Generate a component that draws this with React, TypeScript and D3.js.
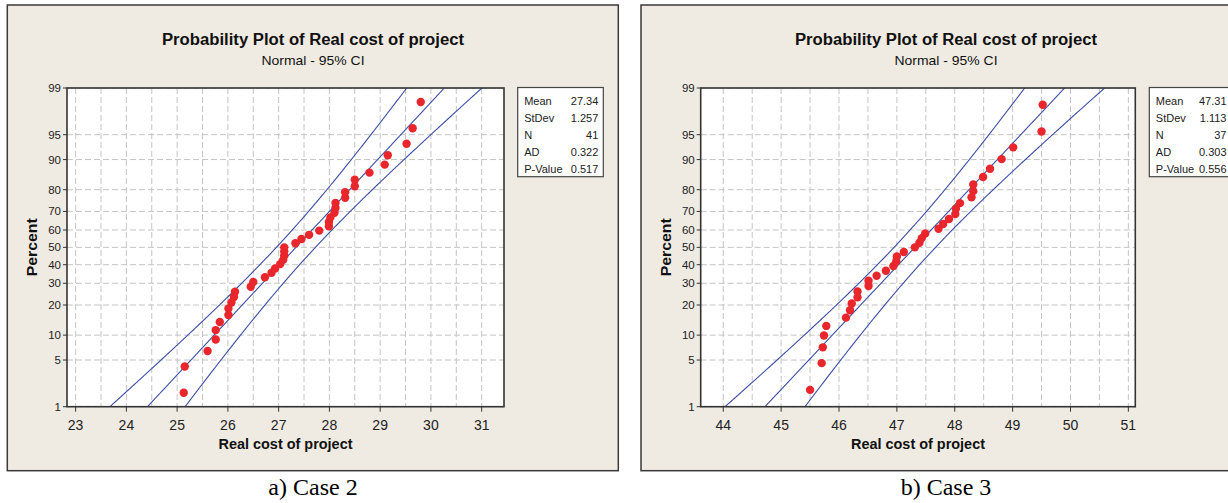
import React from 'react';
import * as d3 from 'd3';

// Real cost of project (sorted)
const case2Costs = [
  25.13, 25.15, 25.6, 25.76, 25.76, 25.84, 26.01, 26.01, 26.07, 26.12, 26.14,
  26.45, 26.5, 26.73, 26.86, 26.93, 27.03, 27.09, 27.11, 27.11, 27.11, 27.33,
  27.45, 27.6, 27.8, 27.99, 27.99, 28.02, 28.1, 28.12, 28.12, 28.31, 28.31,
  28.5, 28.5, 28.79, 29.09, 29.15, 29.52, 29.64, 29.8,
];
const case3Costs = [
  45.5, 45.7, 45.72, 45.74, 45.78, 46.12, 46.19, 46.22, 46.32, 46.32, 46.51,
  46.51, 46.65, 46.81, 46.94, 46.99, 47.0, 47.12, 47.31, 47.39, 47.43, 47.49,
  47.72, 47.8, 47.9, 48.01, 48.02, 48.09, 48.29, 48.32, 48.32, 48.49, 48.61,
  48.81, 49.01, 49.5, 49.52,
];

const statLabels = ['Mean', 'StDev', 'N', 'AD', 'P-Value'];
const case2Stats = ['27.34', '1.257', '41', '0.322', '0.517'];
const case3Stats = ['47.31', '1.113', '37', '0.303', '0.556'];
const case2Fit = { mean: 27.34, sd: 1.257 };
const case3Fit = { mean: 47.31, sd: 1.113 };

const percentTicks = [1, 5, 10, 20, 30, 40, 50, 60, 70, 80, 90, 95, 99];
const case2Ticks = [23, 24, 25, 26, 27, 28, 29, 30, 31];
const case3Ticks = [44, 45, 46, 47, 48, 49, 50, 51];

const SANS = "'Liberation Sans', Arial, sans-serif";
const BLUE = '#3b4ea6';
const RED = '#e8262b';

// inverse normal cdf (Acklam)
function qnorm(p: number): number {
  const a = [-39.6968302866538, 220.946098424521, -275.928510446969, 138.357751867269, -30.6647980661472, 2.50662827745924];
  const b = [-54.4760987982241, 161.585836858041, -155.698979859887, 66.8013118877197, -13.2806815528857];
  const c = [-0.00778489400243029, -0.322396458041136, -2.40075827716184, -2.54973253934373, 4.37466414146497, 2.93816398269878];
  const d = [0.00778469570904146, 0.32246712907004, 2.445134137143, 3.75440866190742];
  const pl = 0.02425;
  if (p < pl) {
    const q = Math.sqrt(-2 * Math.log(p));
    return (((((c[0] * q + c[1]) * q + c[2]) * q + c[3]) * q + c[4]) * q + c[5]) /
      ((((d[0] * q + d[1]) * q + d[2]) * q + d[3]) * q + 1);
  }
  if (p > 1 - pl) {
    const q = Math.sqrt(-2 * Math.log(1 - p));
    return -(((((c[0] * q + c[1]) * q + c[2]) * q + c[3]) * q + c[4]) * q + c[5]) /
      ((((d[0] * q + d[1]) * q + d[2]) * q + d[3]) * q + 1);
  }
  const q = p - 0.5;
  const r = q * q;
  return (((((a[0] * r + a[1]) * r + a[2]) * r + a[3]) * r + a[4]) * r + a[5]) * q /
    (((((b[0] * r + b[1]) * r + b[2]) * r + b[3]) * r + b[4]) * r + 1);
}

type PanelProps = {
  id: string;
  values: number[];
  fit: { mean: number; sd: number };
  stats: string[];
  xDomain: [number, number];
  xTicks: number[];
  frame: { x: number; y: number; w: number; h: number };
  plot: { l: number; t: number; r: number; b: number };
  titleX: number;
  percentX: number;
  legendX: number;
  valueX: number;
  caption: string;
  captionX: number;
};

const Panel = ({ id, values, fit, stats, xDomain, xTicks, frame, plot, titleX, percentX, legendX, valueX, caption, captionX }: PanelProps) => {
  const zLo = qnorm(0.01);
  const zHi = qnorm(0.99);
  const x = d3.scaleLinear().domain(xDomain).range([plot.l, plot.r]);
  const yz = d3.scaleLinear().domain([zLo, zHi]).range([plot.b, plot.t]);
  const y = (pct: number) => yz(qnorm(pct / 100));

  const n = values.length;
  const sorted = [...values].sort((a, b) => a - b);
  // median ranks for the plotting positions
  const pts = sorted.map((v, i) => ({ v, p: (i + 1 - 0.3) / (n + 0.4) }));

  const grid = d3.range(Math.ceil(xDomain[0] * 2) / 2, xDomain[1] + 1e-6, 0.5);
  const zs = d3.range(zLo, zHi, 0.02).concat([zHi]);
  const band = (k: number) =>
    d3.line<number>()
      .x(z => x(fit.mean + z * fit.sd + k * 1.96 * fit.sd * Math.sqrt(1 / n + (z * z) / (2 * n))))
      .y(z => yz(z))(zs) || '';

  const xMid = (plot.l + plot.r) / 2;
  const yMid = (plot.t + plot.b) / 2;

  return (
    <g>
      <rect x={frame.x} y={frame.y} width={frame.w} height={frame.h} fill="#efebe2" stroke="#3a3a3a" strokeWidth={1.5} />
      <rect x={plot.l} y={plot.t} width={plot.r - plot.l} height={plot.b - plot.t} fill="#ffffff" />

      {/* grid */}
      {grid.map(g => (
        <line key={'gx' + g} x1={x(g)} x2={x(g)} y1={plot.t} y2={plot.b} stroke="#c4c4c4" strokeDasharray="6,3" />
      ))}
      {percentTicks.map(p => (
        <line key={'gy' + p} x1={plot.l} x2={plot.r} y1={y(p)} y2={y(p)} stroke="#c4c4c4" strokeDasharray="6,3" />
      ))}

      <clipPath id={id}>
        <rect x={plot.l} y={plot.t} width={plot.r - plot.l} height={plot.b - plot.t} />
      </clipPath>
      <g clipPath={`url(#${id})`}>
        {[-1, 0, 1].map(k => (
          <path key={k} d={band(k)} fill="none" stroke={BLUE} strokeWidth={1.1} />
        ))}
      </g>

      {pts.map((d, i) => (
        <circle key={i} cx={x(d.v)} cy={yz(qnorm(d.p))} r={4.2} fill={RED} />
      ))}

      <rect x={plot.l} y={plot.t} width={plot.r - plot.l} height={plot.b - plot.t} fill="none" stroke="#333" strokeWidth={1.6} />

      {/* y axis */}
      {percentTicks.map(p => (
        <g key={'ty' + p}>
          <line x1={plot.l - 4} x2={plot.l} y1={y(p)} y2={y(p)} stroke="#333" />
          <text x={plot.l - 6} y={y(p) + 4} textAnchor="end" fontFamily={SANS} fontSize={11.5} fill="#222">{p}</text>
        </g>
      ))}
      {/* x axis */}
      {xTicks.map(t => (
        <g key={'tx' + t}>
          <line x1={x(t)} x2={x(t)} y1={plot.b} y2={plot.b + 5} stroke="#333" />
          <text x={x(t)} y={plot.b + 23} textAnchor="middle" fontFamily={SANS} fontSize={14} fill="#222">{t}</text>
        </g>
      ))}

      <text x={xMid} y={449} textAnchor="middle" fontFamily={SANS} fontSize={15} fontWeight="bold" fill="#111"
        textLength={134} lengthAdjust="spacingAndGlyphs">Real cost of project</text>
      <text transform={`translate(${percentX},${yMid}) rotate(-90)`} textAnchor="middle" fontFamily={SANS} fontSize={15}
        fontWeight="bold" fill="#111" textLength={58} lengthAdjust="spacingAndGlyphs">Percent</text>

      <text x={titleX} y={45} textAnchor="middle" fontFamily={SANS} fontSize={16} fontWeight="bold" fill="#111"
        textLength={302} lengthAdjust="spacingAndGlyphs">Probability Plot of Real cost of project</text>
      <text x={titleX} y={64.5} textAnchor="middle" fontFamily={SANS} fontSize={13} fill="#111"
        textLength={103} lengthAdjust="spacingAndGlyphs">Normal - 95% CI</text>

      {/* legend */}
      <rect x={legendX} y={87.5} width={85.6} height={89.2} fill="#ffffff" stroke="#444" strokeWidth={1.2} />
      {statLabels.map((s, i) => (
        <g key={s}>
          <text x={legendX + 6.5} y={104.5 + i * 17} fontFamily={SANS} fontSize={11} fill="#222">{s}</text>
          <text x={valueX} y={104.5 + i * 17} textAnchor="end" fontFamily={SANS} fontSize={11} fill="#222">{stats[i]}</text>
        </g>
      ))}

      <text x={captionX} y={495} textAnchor="middle" fontFamily="'Liberation Serif', 'Times New Roman', serif" fontSize={24} fill="#000">{caption}</text>
    </g>
  );
};

const App = () => {
  return (
    <svg width={1228} height={503} style={{ position: 'absolute', left: 0, top: 0, background: '#ffffff' }}>
      <Panel
        id="clipA"
        values={case2Costs}
        fit={case2Fit}
        stats={case2Stats}
        xDomain={[22.83, 31.44]}
        xTicks={case2Ticks}
        frame={{ x: 7.3, y: 5, w: 611, h: 465.7 }}
        plot={{ l: 67, t: 88, r: 504, b: 406.7 }}
        titleX={313}
        percentX={37}
        legendX={517.7}
        valueX={598.3}
        caption="a) Case 2"
        captionX={313}
      />
      <Panel
        id="clipB"
        values={case3Costs}
        fit={case3Fit}
        stats={case3Stats}
        xDomain={[43.61, 51.12]}
        xTicks={case3Ticks}
        frame={{ x: 641, y: 5, w: 612, h: 465.7 }}
        plot={{ l: 700.7, t: 88, r: 1135.3, b: 406.7 }}
        titleX={946}
        percentX={671}
        legendX={1149.3}
        valueX={1226.5}
        caption="b) Case 3"
        captionX={946}
      />
    </svg>
  );
};

export default App;
